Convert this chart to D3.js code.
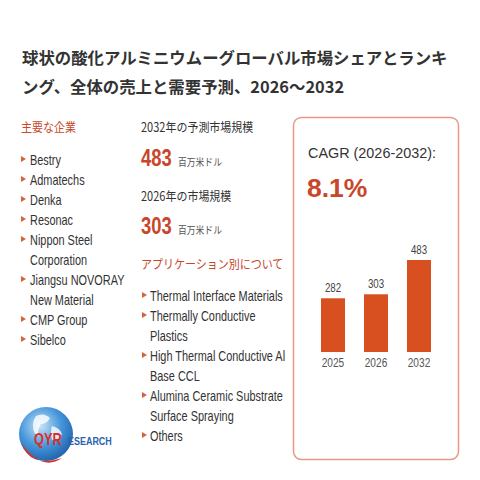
<!DOCTYPE html>
<html><head><meta charset="utf-8">
<script src="https://cdn.jsdelivr.net/npm/d3@7"></script>
<style>
html,body{margin:0;padding:0;background:#fff;}
svg{display:block;}
</style></head>
<body>
<script>
const titleLines = ["球状の酸化アルミニウムーグローバル市場シェアとランキ", "ング、全体の売上と需要予測、2026～2032"];
const companies = [["Bestry"],["Admatechs"],["Denka"],["Resonac"],["Nippon Steel","Corporation"],["Jiangsu NOVORAY","New Material"],["CMP Group"],["Sibelco"]];
const applications = [["Thermal Interface Materials"],["Thermally Conductive","Plastics"],["High Thermal Conductive Al","Base CCL"],["Alumina Ceramic Substrate","Surface Spraying"],["Others"]];
const years = ["2025","2026","2032"];
const values = [282,303,483];
const cagrLabel = "CAGR (2026-2032):";
const cagrValue = "8.1%";
const size2032 = 483, size2026 = 303;

const W=480,H=480;
const accent="#c8472a", bar="#d84f20", txt="#333";
const sans="'Liberation Sans',Arial,sans-serif";
const jp="'Noto Sans CJK JP',sans-serif";
const svg=d3.select("body").append("svg").attr("width",W).attr("height",H);

function addText(parent,x,y,str,o){
  const t=parent.append("text").attr("transform",`translate(${x},${y}) scale(${o.sx||1},1)`)
    .attr("font-family",o.ff||sans).attr("font-size",o.fs).attr("fill",o.fill||txt)
    .attr("font-weight",o.fw||"normal").attr("text-anchor",o.anchor||"start").text(str);
  return t;
}

// title
titleLines.forEach((d,i)=>addText(svg,22,64+i*29,d,{ff:jp,fw:"bold",fs:16.4,fill:"#333"}));

function bullet(x,y){
  svg.append("path").attr("d",`M${x},${y-4}L${x+5},${y-1}L${x},${y+2}Z`).attr("fill","#d9623a");
}
const SX=0.78;
// left column
addText(svg,21,132,"主要な企業",{ff:jp,fs:12.5,sx:0.88,fill:accent});
let row=0;
companies.forEach(c=>{
  c.forEach((line,j)=>{
    const y=165+row*20;
    if(j===0) bullet(21,y-5);
    addText(svg,30,y,line,{fs:14,sx:SX});
    row++;
  });
});

// middle column
addText(svg,141,132,"2032年の予測市場規模",{ff:jp,fs:12.5,sx:0.88});
function big(v,y){
  addText(svg,141,y,v,{fs:23,fw:"bold",sx:0.8,fill:accent});
  addText(svg,178,y,"百万米ドル",{ff:jp,fs:10,sx:0.88,fill:"#555"});
}
big(size2032,166);
addText(svg,141,201,"2026年の市場規模",{ff:jp,fs:12.5,sx:0.88});
big(size2026,234);
addText(svg,141,269,"アプリケーション別について",{ff:jp,fs:12.5,sx:0.88,fill:accent});
row=0;
applications.forEach(c=>{
  c.forEach((line,j)=>{
    const y=301+row*20;
    if(j===0) bullet(142,y-5);
    addText(svg,150,y,line,{fs:14,sx:SX});
    row++;
  });
});

// right box
svg.append("rect").attr("x",293.5).attr("y",117.5).attr("width",165).attr("height",342).attr("rx",8)
  .attr("fill","#fff").attr("stroke","#e49a82").attr("stroke-width",1.5);
addText(svg,308,158,cagrLabel,{fs:14.4,fill:"#333"});
addText(svg,307,197,cagrValue,{fs:26.5,fw:"bold",fill:accent});

const x=d3.scaleBand().domain(years).range([308.1,443.9]).paddingInner(0.442).paddingOuter(0.3);
const y=d3.scaleLinear().domain([0,483]).range([352,260]);
const g=svg.append("g");
g.selectAll("rect").data(years).join("rect")
  .attr("x",d=>x(d)).attr("width",x.bandwidth())
  .attr("y",(d,i)=>y(values[i])).attr("height",(d,i)=>y(0)-y(values[i])).attr("fill",bar);
years.forEach((d,i)=>addText(g,x(d)+x.bandwidth()/2,y(values[i])-6,String(values[i]),{fs:12.5,sx:0.78,fill:"#444",anchor:"middle"}));
const ax=svg.append("g").attr("transform","translate(0,352)").call(d3.axisBottom(x).tickSize(0).tickPadding(6));
ax.select(".domain").remove();
ax.selectAll("text").attr("font-family",sans).attr("font-size",13).attr("fill","#555")
  .attr("transform","scale(0.78,1)").attr("x",0);
ax.selectAll(".tick").each(function(d){
  d3.select(this).attr("transform",`translate(${x(d)+x.bandwidth()/2},0)`);
});

// logo
const defs=svg.append("defs");
const rg=defs.append("radialGradient").attr("id","globe").attr("cx","40%").attr("cy","35%").attr("r","70%");
rg.append("stop").attr("offset","0%").attr("stop-color","#c6e4f8");
rg.append("stop").attr("offset","55%").attr("stop-color","#4595da");
rg.append("stop").attr("offset","100%").attr("stop-color","#1f5fa8");
svg.append("circle").attr("cx",46).attr("cy",434).attr("r",27).attr("fill","url(#globe)");
svg.append("path").attr("d","M36,416 q8,-4 14,2 q-3,6 -9,6 q-4,6 -2,12 q-6,-2 -6,-10 q0,-6 3,-10Z M52,426 q8,2 10,8 q-4,8 -10,6 q-2,-8 0,-14Z").attr("fill","#fff").attr("opacity",0.8);
svg.append("path").attr("d","M22,444 q8,24 40,14 q-20,14 -40,-14Z").attr("fill","#d9302a");
addText(svg,34,445,"QYR",{fs:16,fw:"bold",sx:0.8,fill:"#d9302a"});
addText(svg,68,445,"ESEARCH",{fs:11.5,fw:"bold",sx:0.78,fill:"#2a63b0"});
</script>
</body></html>
